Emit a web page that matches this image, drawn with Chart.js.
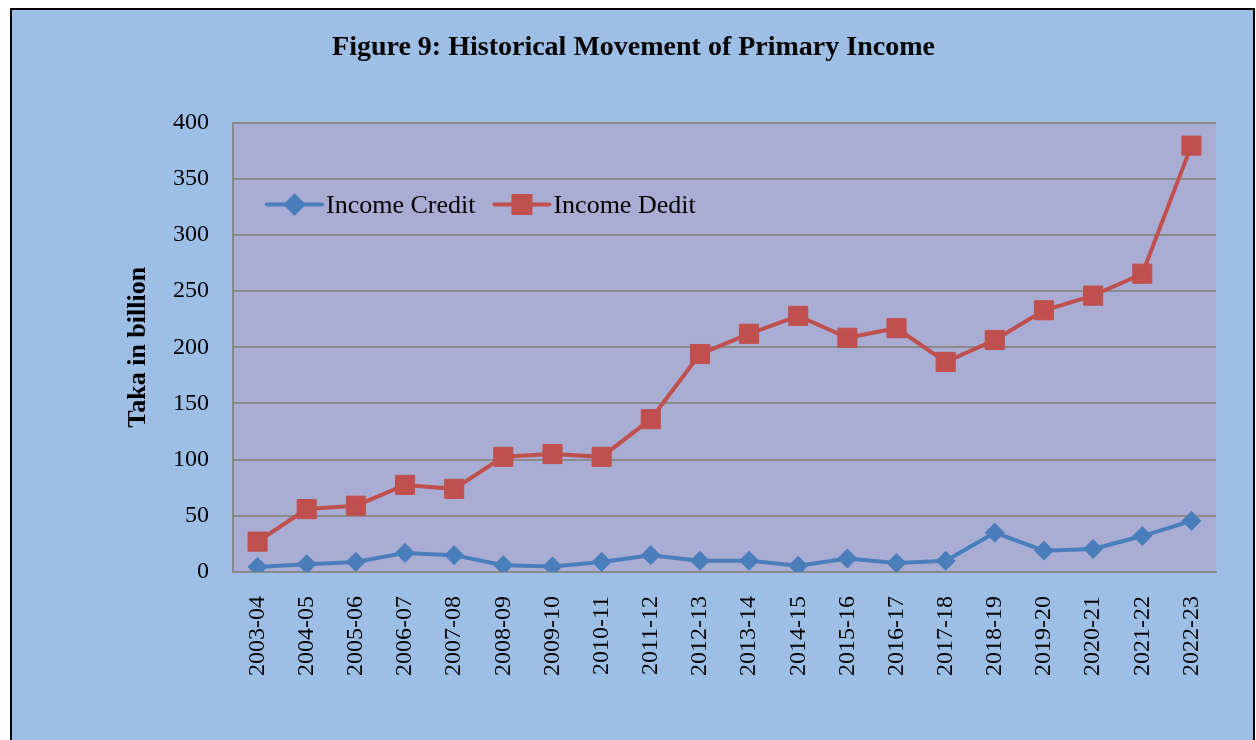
<!doctype html>
<html><head><meta charset="utf-8">
<title>Historical Movement of Primary Income</title>
<script src="https://cdn.jsdelivr.net/npm/chart.js"></script>
<style>
  html, body { margin: 0; padding: 0; background: #fff; overflow: hidden; }
  #frame { position: absolute; left: 10px; top: 8px; width: 1245px; height: 760px;
           box-sizing: border-box; border: 2px solid #000; background: #9dbee5; }
  #wrap { position: absolute; left: 0; top: 0; width: 1256px; height: 740px; }
</style>
</head><body>
<div id="frame"></div>
<div id="wrap"><canvas id="incomeChart"></canvas></div>
<script>
const years = ['2003-04','2004-05','2005-06','2006-07','2007-08','2008-09','2009-10','2010-11','2011-12','2012-13',
               '2013-14','2014-15','2015-16','2016-17','2017-18','2018-19','2019-20','2020-21','2021-22','2022-23'];
const incomeCredit = [4.5, 7, 9, 17, 15, 6, 5, 9, 15, 10, 10, 5.5, 12, 8, 10, 35, 19, 20.5, 32, 45.5];
const incomeDebit = [27, 56, 59, 77.5, 74, 102.5, 105, 102.5, 136, 194, 212, 228, 208.5, 217, 187, 206.5, 233, 246, 265.5, 379.5];
const yTicks = [0, 50, 100, 150, 200, 250, 300, 350, 400];

const serif = '"Liberation Serif", "Times New Roman", serif';
const blue = '#4a7ebb';
const red = '#c0504d';
const gridGray = '#8a8a8a';

// plot area fill (the purple-ish box)
const plotBg = {
  id: 'plotBg',
  beforeDraw(chart) {
    const { ctx, chartArea: a } = chart;
    ctx.save();
    ctx.fillStyle = '#a9acd3';
    ctx.fillRect(a.left, a.top, a.right - a.left, a.bottom - a.top);
    ctx.restore();
  }
};

// excel style legend sitting inside the plot
const legendMarks = { rectRot: 8.5, rect: 12 };
const insideLegend = {
  id: 'insideLegend',
  afterDatasetsDraw(chart) {
    const { ctx, chartArea: a } = chart;
    let x = a.left + 34;
    const y = a.top + 82;
    ctx.save();
    ctx.font = '26px ' + serif;
    ctx.textBaseline = 'middle';
    chart.data.datasets.forEach(ds => {
      ctx.strokeStyle = ds.borderColor;
      ctx.lineWidth = 4;
      ctx.lineCap = 'round';
      ctx.beginPath();
      ctx.moveTo(x, y);
      ctx.lineTo(x + 55, y);
      ctx.stroke();
      Chart.helpers.drawPoint(ctx, {
        pointStyle: ds.pointStyle, radius: legendMarks[ds.pointStyle], borderWidth: 1
      }, x + 27.5, y);
      ctx.fillStyle = ds.borderColor;
      ctx.fill();
      ctx.fillStyle = '#000';
      ctx.fillText(ds.label, x + 59, y + 2);
      x += 59 + ctx.measureText(ds.label).width + 19;
    });
    ctx.restore();
  }
};

new Chart(document.getElementById('incomeChart'), {
  type: 'line',
  data: {
    labels: years,
    datasets: [{
      label: 'Income Credit',
      data: incomeCredit,
      borderColor: blue,
      backgroundColor: blue,
      pointBackgroundColor: blue,
      pointBorderColor: blue,
      borderWidth: 4,
      pointStyle: 'rectRot',
      pointRadius: 9.5,
      pointBorderWidth: 1
    }, {
      label: 'Income Dedit',
      data: incomeDebit,
      borderColor: red,
      backgroundColor: red,
      pointBackgroundColor: red,
      pointBorderColor: red,
      borderWidth: 4,
      pointStyle: 'rect',
      pointRadius: 13.5,
      pointBorderWidth: 1
    }]
  },
  options: {
    responsive: true,
    maintainAspectRatio: false,
    animation: false,
    layout: { padding: { left: 51, right: 40, top: 0, bottom: 0 } },
    plugins: {
      legend: { display: false },
      tooltip: { enabled: false },
      title: {
        display: true,
        text: 'Figure 9: Historical Movement of Primary Income',
        color: '#000',
        font: { family: serif, size: 28, weight: 'bold' },
        padding: { top: 31, bottom: 58 }
      }
    },
    scales: {
      x: {
        offset: true,
        grid: { display: false, drawTicks: false },
        border: { display: true, color: gridGray, width: 2 },
        ticks: {
          color: '#000', font: { family: serif, size: 24 },
          maxRotation: 90, minRotation: 90, autoSkip: false, padding: 24
        },
        afterFit(s) { s.height = 168; }
      },
      y: {
        min: 0, max: 400,
        afterBuildTicks(s) { s.ticks = yTicks.map(v => ({ value: v })); },
        grid: { color: gridGray, lineWidth: 2, drawTicks: false },
        border: { display: true, color: gridGray, width: 2 },
        ticks: { color: '#000', font: { family: serif, size: 24 }, padding: 24 },
        title: {
          display: true, text: 'Taka in billion', color: '#000',
          font: { family: serif, size: 26, weight: 'bold' },
          padding: { top: 72, bottom: 0 }
        },
        afterFit(s) { s.width = 182; }
      }
    }
  },
  plugins: [plotBg, insideLegend]
});
</script>
</body></html>
